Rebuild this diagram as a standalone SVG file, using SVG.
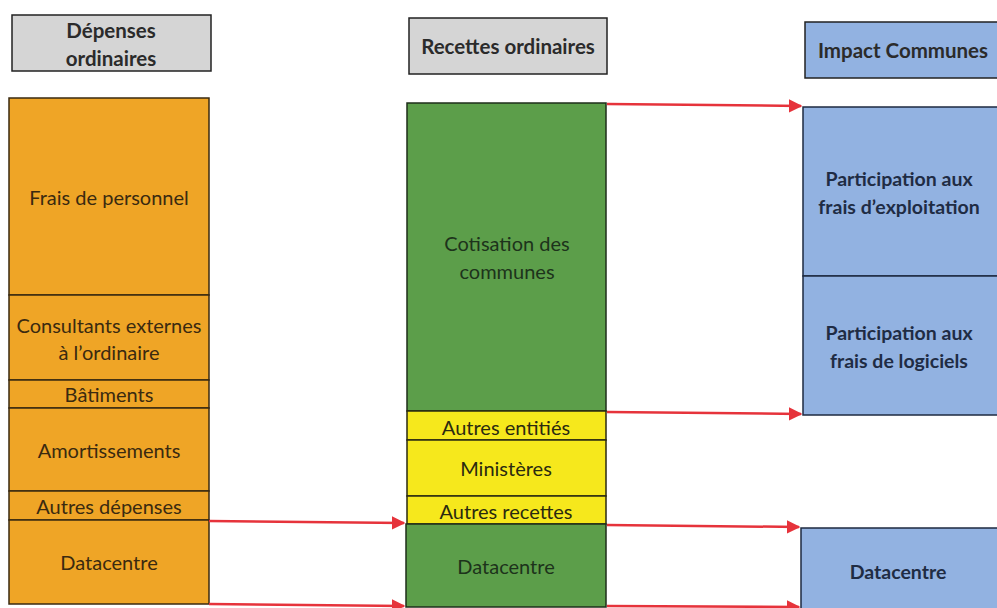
<svg xmlns="http://www.w3.org/2000/svg" width="997" height="608" viewBox="0 0 997 608">
<defs>
<style>
text{font-family:Lato,"Open Sans","Liberation Sans",sans-serif;text-anchor:middle;dominant-baseline:central}
.hdr rect{fill:#d5d5d5;stroke:#222;stroke-width:1.5}
.hdr text{font-size:20.5px;font-weight:bold;fill:#2b2b2b}
.o rect{fill:#efa526;stroke:#3a2a10;stroke-width:1.5}
.o text{font-size:20px;fill:#3a2a10}
.g rect{fill:#5c9e4a;stroke:#1e2e1a;stroke-width:1.5}
.g text{font-size:20px;fill:#1d331b}
.y rect{fill:#f6e81c;stroke:#2a2a10;stroke-width:1.5}
.y text{font-size:20px;fill:#2a2a10}
.b rect{fill:#92b2e1;stroke:#1e2a40;stroke-width:1.5}
.b text{font-size:19.5px;font-weight:bold;fill:#1f2c44}
.conn line{stroke:#e6333b;stroke-width:2.5}
</style>
<marker id="ah" viewBox="0 0 10 10" refX="9" refY="5" markerWidth="5.5" markerHeight="5.5" orient="auto" markerUnits="strokeWidth">
<path d="M0,0 L10,5 L0,10 z" fill="#e6333b"/>
</marker>
</defs>
<rect width="997" height="608" fill="#ffffff"/>

<g id="hdr-depenses" class="hdr"><rect x="12" y="15" width="199" height="56"/><text x="111" y="30">Dépenses</text><text x="111" y="58">ordinaires</text></g>
<g id="hdr-recettes" class="hdr"><rect x="409" y="18" width="198" height="56"/><text x="508" y="46">Recettes ordinaires</text></g>
<g id="hdr-impact" class="hdr"><rect x="805" y="22" width="196" height="56" style="fill:#92b2e1"/><text x="903" y="50">Impact Communes</text></g>

<g id="d-personnel" class="o"><rect x="9" y="98" width="200" height="197"/><text x="109" y="197">Frais de personnel</text></g>
<g id="d-consultants" class="o"><rect x="9" y="295" width="200" height="85"/><text x="109" y="325">Consultants externes</text><text x="109" y="352">à l’ordinaire</text></g>
<g id="d-batiments" class="o"><rect x="9" y="380" width="200" height="28"/><text x="109" y="394">Bâtiments</text></g>
<g id="d-amort" class="o"><rect x="9" y="408" width="200" height="83"/><text x="109" y="450">Amortissements</text></g>
<g id="d-autres" class="o"><rect x="9" y="491" width="200" height="29"/><text x="109" y="506">Autres dépenses</text></g>
<g id="d-datacentre" class="o"><rect x="9" y="520" width="200" height="84"/><text x="109" y="562">Datacentre</text></g>

<g id="r-cotisation" class="g"><rect x="407" y="103" width="199" height="308"/><text x="507" y="243">Cotisation des</text><text x="507" y="271">communes</text></g>
<g id="r-entites" class="y"><rect x="407" y="411" width="199" height="29"/><text x="506" y="427">Autres entitiés</text></g>
<g id="r-ministeres" class="y"><rect x="407" y="440" width="199" height="56"/><text x="506" y="468">Ministères</text></g>
<g id="r-autres" class="y"><rect x="407" y="496" width="199" height="28"/><text x="506" y="511">Autres recettes</text></g>
<g id="r-datacentre" class="g"><rect x="406" y="524" width="200" height="83"/><text x="506" y="566">Datacentre</text></g>

<g id="i-exploitation" class="b"><rect x="803" y="107" width="198" height="169"/><text x="899" y="178">Participation aux</text><text x="899" y="206">frais d’exploitation</text></g>
<g id="i-logiciels" class="b"><rect x="803" y="276" width="198" height="139"/><text x="899" y="332">Participation aux</text><text x="899" y="360">frais de logiciels</text></g>
<g id="i-datacentre" class="b"><rect x="801" y="528" width="200" height="84"/><text x="898" y="571">Datacentre</text></g>

<g id="connectors" class="conn">
<line x1="607" y1="104" x2="801" y2="106" marker-end="url(#ah)"/>
<line x1="607" y1="412" x2="801" y2="414" marker-end="url(#ah)"/>
<line x1="607" y1="525" x2="799" y2="527" marker-end="url(#ah)"/>
<line x1="607" y1="606" x2="799" y2="607" marker-end="url(#ah)"/>
<line x1="209" y1="521" x2="404" y2="523" marker-end="url(#ah)"/>
<line x1="209" y1="604" x2="404" y2="606" marker-end="url(#ah)"/>
</g>
</svg>
